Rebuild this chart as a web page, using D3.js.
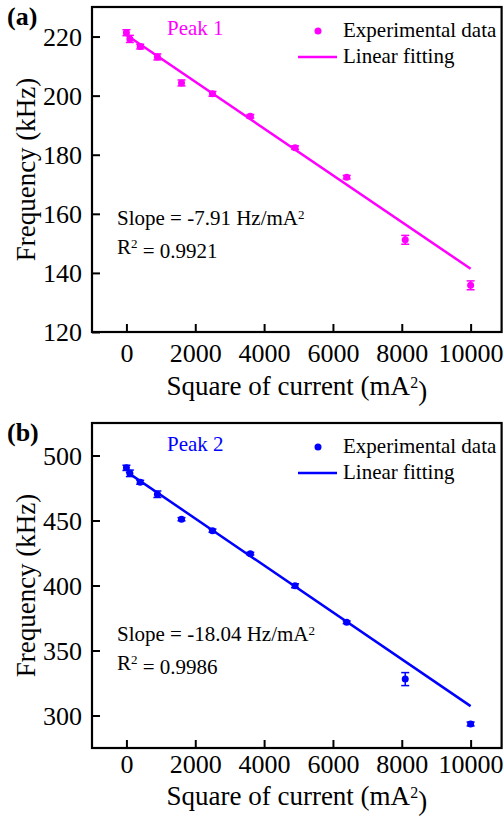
<!DOCTYPE html>
<html>
<head>
<meta charset="utf-8">
<script src="https://cdn.jsdelivr.net/npm/d3@7"></script>
<style>
  body { margin: 0; background: #fff; }
  svg text { font-family: "Liberation Serif", "Times New Roman", serif; fill: #000; }
</style>
</head>
<body>
<div class="chart_container"></div>
<script>
var width = 503
var height = 818

// square of current (mA^2)
var currentSq = [0, 100, 400, 900, 1600, 2500, 3600, 4900, 6400, 8100, 10000]

// peak 1 frequency (kHz) and error
var peak1Freq = [221.3, 219.2, 216.6, 213.1, 204.3, 200.6, 193.0, 182.4, 172.4, 151.2, 135.8]
var peak1Err  = [1.0, 1.2, 0.8, 1.0, 1.0, 0.8, 0.6, 0.6, 0.6, 1.5, 1.5]
var fit1X = [0, 10000]
var fit1Y = [220.5, 141.4]

// peak 2 frequency (kHz) and error
var peak2Freq = [490.5, 486.3, 479.4, 470.2, 451.0, 442.2, 424.5, 399.8, 371.7, 328.0, 293.5]
var peak2Err  = [2.0, 2.5, 1.5, 2.5, 1.2, 1.2, 1.0, 1.5, 1.0, 5.0, 1.5]
var fit2X = [0, 10000]
var fit2Y = [487.6, 307.2]

var xTicks = [0, 2000, 4000, 6000, 8000, 10000]
var y1Ticks = [120, 140, 160, 180, 200, 220]
var y2Ticks = [300, 350, 400, 450, 500]

var serif = "'Liberation Serif', 'Times New Roman', serif"

var svg = d3.select(".chart_container").append("svg")
            .attr("width", width)
            .attr("height", height);

var drawPanel = function(p) {
  var g = svg.append("g")
             .attr("transform", "translate(0," + p.top + ")");

  var left = 92, right = 501.6, top = 7, bottom = 332;

  var scaleX = d3.scaleLinear()
                 .domain([-1000, 10900])
                 .range([left, right]);

  var scaleY = d3.scaleLinear()
                 .domain(p.yDomain)
                 .range([bottom, top]);

  var axisBottom = d3.axisBottom(scaleX).tickValues(xTicks)
                                        .tickFormat(d3.format("d"))
                                        .tickSizeInner(-8)
                                        .tickSizeOuter(0)
                                        .tickPadding(p.xPad);

  var axisLeft = d3.axisLeft(scaleY).tickValues(p.yTicks)
                                    .tickFormat(d3.format("d"))
                                    .tickSizeInner(-8)
                                    .tickSizeOuter(0)
                                    .tickPadding(10);

  var gx = g.append("g")
            .attr("transform", "translate(0," + bottom + ")")
            .call(axisBottom);

  var gy = g.append("g")
            .attr("transform", "translate(" + left + ",0)")
            .call(axisLeft);

  [gx, gy].forEach(function(a) {
    a.attr("font-family", null).attr("font-size", null);
    a.select(".domain").remove();
    a.selectAll(".tick line").attr("stroke", "#000").attr("stroke-width", 2);
    a.selectAll(".tick text")
     .style("font-family", serif)
     .style("font-size", "26px")
     .attr("fill", "#000");
  });
  gx.selectAll(".tick text").attr("dy", "0.71em");
  gy.selectAll(".tick text").attr("dy", "0.34em");

  // frame
  g.append("rect")
   .attr("x", left)
   .attr("y", top)
   .attr("width", right - left)
   .attr("height", bottom - top)
   .attr("fill", "none")
   .attr("stroke", "#000")
   .attr("stroke-width", 2.2);

  // fit line
  var fitLine = d3.line()
                  .x(function(d) { return scaleX(d[0]); })
                  .y(function(d) { return scaleY(d[1]); });

  g.append("path")
   .datum(d3.zip(p.fitX, p.fitY))
   .attr("d", fitLine)
   .attr("fill", "none")
   .attr("stroke", p.color)
   .attr("stroke-width", 2.5);

  // error bars
  var pts = currentSq.map(function(x, i) {
    return { x: x, y: p.freq[i], e: p.err[i] };
  });

  var bars = g.selectAll(".err")
              .data(pts)
              .enter()
              .append("g")
              .attr("class", "err");

  bars.append("line")
      .attr("x1", function(d) { return scaleX(d.x); })
      .attr("x2", function(d) { return scaleX(d.x); })
      .attr("y1", function(d) { return scaleY(d.y - d.e); })
      .attr("y2", function(d) { return scaleY(d.y + d.e); })
      .attr("stroke", p.color)
      .attr("stroke-width", 1.5);

  [-1, 1].forEach(function(s) {
    bars.append("line")
        .attr("x1", function(d) { return scaleX(d.x) - 4; })
        .attr("x2", function(d) { return scaleX(d.x) + 4; })
        .attr("y1", function(d) { return scaleY(d.y + s * d.e); })
        .attr("y2", function(d) { return scaleY(d.y + s * d.e); })
        .attr("stroke", p.color)
        .attr("stroke-width", 1.5);
  });

  bars.append("circle")
      .attr("cx", function(d) { return scaleX(d.x); })
      .attr("cy", function(d) { return scaleY(d.y); })
      .attr("r", 3.5)
      .attr("fill", p.color);

  // panel letter
  g.append("text")
   .attr("x", 7)
   .attr("y", 25)
   .style("font-family", serif)
   .style("font-size", "26px")
   .style("font-weight", "bold")
   .text(p.letter);

  // peak label
  g.append("text")
   .attr("x", 167)
   .attr("y", 35)
   .style("font-family", serif)
   .style("font-size", "21px")
   .style("fill", p.color)
   .text(p.peak);

  // legend
  g.append("circle")
   .attr("cx", 318)
   .attr("cy", 31)
   .attr("r", 3.5)
   .attr("fill", p.color);

  g.append("text")
   .attr("x", 343)
   .attr("y", 37)
   .style("font-family", serif)
   .style("font-size", "21px")
   .text("Experimental data");

  g.append("line")
   .attr("x1", 298)
   .attr("x2", 337)
   .attr("y1", 57)
   .attr("y2", 57)
   .attr("stroke", p.color)
   .attr("stroke-width", 2.5);

  g.append("text")
   .attr("x", 343)
   .attr("y", 63)
   .style("font-family", serif)
   .style("font-size", "21px")
   .text("Linear fitting");

  // slope and R^2
  var slope = g.append("text")
               .attr("x", 117)
               .attr("y", 225)
               .style("font-family", serif)
               .style("font-size", "21px");
  slope.append("tspan").text("Slope = " + p.slope + " Hz/mA");
  slope.append("tspan").attr("dy", "-0.45em").style("font-size", "13px").text("2");

  var r2 = g.append("text")
            .attr("x", 117)
            .attr("y", 254)
            .style("font-family", serif)
            .style("font-size", "21px");
  r2.append("tspan").text("R");
  r2.append("tspan").attr("dy", "-0.45em").style("font-size", "13px").text("2");
  r2.append("tspan").attr("dy", "0.45em").style("font-size", "21px").text(" = " + p.r2);

  // axis titles
  var xt = g.append("text")
            .attr("x", (left + right) / 2)
            .attr("y", p.xTitleY)
            .style("font-family", serif)
            .style("text-anchor", "middle")
            .style("font-size", "27px");
  xt.append("tspan").text("Square of current (mA");
  xt.append("tspan").attr("dy", "-0.45em").style("font-size", "16px").text("2");
  xt.append("tspan").attr("dy", "0.45em").style("font-size", "27px").text(")");

  g.append("text")
   .attr("transform", "translate(35," + ((top + bottom) / 2) + ") rotate(-90)")
   .style("font-family", serif)
   .style("text-anchor", "middle")
   .style("font-size", "27px")
   .text("Frequency (kHz)");
}

drawPanel({ top: 0, letter: "(a)", peak: "Peak 1", color: "#ff00ff",
            yDomain: [120, 230], yTicks: y1Ticks, xPad: 12, xTitleY: 395,
            freq: peak1Freq, err: peak1Err, fitX: fit1X, fitY: fit1Y,
            slope: "-7.91", r2: "0.9921" });

drawPanel({ top: 416, letter: "(b)", peak: "Peak 2", color: "#0000ff",
            yDomain: [275, 525], yTicks: y2Ticks, xPad: 7, xTitleY: 389,
            freq: peak2Freq, err: peak2Err, fitX: fit2X, fitY: fit2Y,
            slope: "-18.04", r2: "0.9986" });
</script>
</body>
</html>
